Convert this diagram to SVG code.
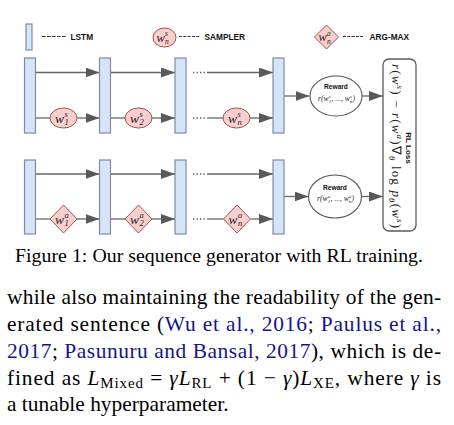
<svg xmlns="http://www.w3.org/2000/svg" width="454" height="425" viewBox="0 0 454 425">
<style>
.lstm{fill:#d6e4f8;stroke:#7d8ca5;stroke-width:1.2}
.samp{fill:#f8cfcd;stroke:#a0524e;stroke-width:1}
.rew{fill:#fff;stroke:#555;stroke-width:1.1}
.edge{fill:none;stroke:#666;stroke-width:1.3}
.dots{fill:none;stroke:#555;stroke-width:1.3;stroke-dasharray:1.3,2.2}
.leg{font-family:"Liberation Sans",Arial,sans-serif;font-size:8.3px;font-weight:bold;fill:#111}
.m{font-family:"Liberation Serif","Times New Roman",serif;font-style:italic;fill:#222}
.big{font-size:13.5px}
.sm{font-size:8.5px}
.rt{font-family:"Liberation Sans",Arial,sans-serif;font-size:6.6px;font-weight:bold;fill:#111}
.rf{font-size:7.5px}
.rs{font-size:5px}
.body{font-family:"Liberation Serif","Times New Roman",serif;fill:#000}
.cite{fill:#14148a}
</style>
<defs>
<marker id="ah" markerUnits="userSpaceOnUse" markerWidth="14" markerHeight="10" refX="14" refY="5" orient="auto">
<path d="M0,0 L14,5 L0,10 z" fill="#595959"/>
</marker>
</defs>

<g id="legend">
<rect class="lstm" x="26" y="24" width="6" height="26"/>
<line x1="42" y1="36.5" x2="67" y2="36.5" stroke="#333" stroke-width="1" stroke-dasharray="3.6,1.4"/>
<text class="leg" x="70.5" y="40">LSTM</text>
<ellipse class="samp" cx="164.5" cy="37.5" rx="11.5" ry="9.5"/>
<text class="m" style="font-size:12.5px" x="156.5" y="41.5">w</text>
<text class="m" style="font-size:7.5px" x="165" y="36">s</text>
<text class="m" style="font-size:7.5px" x="165" y="44">n</text>
<line x1="179" y1="36.5" x2="200" y2="36.5" stroke="#333" stroke-width="1" stroke-dasharray="3,1.3"/>
<text class="leg" x="204.5" y="40">SAMPLER</text>
<path class="samp" d="M326.5,25 L338.5,37 L326.5,49 L314.5,37 z"/>
<text class="m" style="font-size:12.5px" x="318.5" y="41">w</text>
<text class="m" style="font-size:7.5px" x="327" y="35.5">a</text>
<text class="m" style="font-size:7.5px" x="327" y="43.5">n</text>
<line x1="343" y1="36.5" x2="363" y2="36.5" stroke="#333" stroke-width="1" stroke-dasharray="3,1.3"/>
<text class="leg" x="369.5" y="40">ARG-MAX</text>
</g>

<g id="connectors">
<path class="edge" d="M35.5,72.5 H99.5" marker-end="url(#ah)"/>
<path class="edge" d="M110.5,72.5 H175" marker-end="url(#ah)"/>
<path class="dots" d="M193,72.5 H207"/>
<path class="edge" d="M207,72.5 H273" marker-end="url(#ah)"/>
<path class="edge" d="M35.5,118 H50"/>
<path class="edge" d="M77,118 H99.5" marker-end="url(#ah)"/>
<path class="edge" d="M110.5,118 H125"/>
<path class="edge" d="M152,118 H175" marker-end="url(#ah)"/>
<path class="dots" d="M193,118 H207"/>
<path class="edge" d="M207,118 H223"/>
<path class="edge" d="M250,118 H273" marker-end="url(#ah)"/>
<path class="edge" d="M35.5,174 H99.5" marker-end="url(#ah)"/>
<path class="edge" d="M110.5,174 H175" marker-end="url(#ah)"/>
<path class="dots" d="M193,174 H207"/>
<path class="edge" d="M207,174 H273" marker-end="url(#ah)"/>
<path class="edge" d="M35.5,219 H50"/>
<path class="edge" d="M77,219 H99.5" marker-end="url(#ah)"/>
<path class="edge" d="M110.5,219 H125"/>
<path class="edge" d="M152,219 H175" marker-end="url(#ah)"/>
<path class="dots" d="M193,219 H207"/>
<path class="edge" d="M207,219 H223.5"/>
<path class="edge" d="M250.5,219 H273" marker-end="url(#ah)"/>
<path class="edge" d="M284,96 H309.5" marker-end="url(#ah)"/>
<path class="edge" d="M362,96 H383" marker-end="url(#ah)"/>
<path class="edge" d="M284,196.5 H308.5" marker-end="url(#ah)"/>
<path class="edge" d="M361.5,196.5 H383" marker-end="url(#ah)"/>
</g>

<g id="lstm-top-1"><rect class="lstm" x="24.5" y="58" width="11" height="75"/></g>
<g id="lstm-top-2"><rect class="lstm" x="99.5" y="58" width="11" height="75"/></g>
<g id="lstm-top-3"><rect class="lstm" x="175" y="58" width="11" height="75"/></g>
<g id="lstm-top-4"><rect class="lstm" x="273" y="58" width="11" height="75"/></g>
<g id="lstm-bot-1"><rect class="lstm" x="24.5" y="160" width="11" height="74"/></g>
<g id="lstm-bot-2"><rect class="lstm" x="99.5" y="160" width="11" height="74"/></g>
<g id="lstm-bot-3"><rect class="lstm" x="175" y="160" width="11" height="74"/></g>
<g id="lstm-bot-4"><rect class="lstm" x="273" y="160" width="11" height="74"/></g>

<g id="ws1">
<ellipse class="samp" cx="63.5" cy="118" rx="13.5" ry="10"/>
<text class="m big" x="55" y="122.5">w</text>
<text class="m sm" x="64.5" y="116.5">s</text>
<text class="m sm" x="64.5" y="125">1</text>
</g>
<g id="ws2">
<ellipse class="samp" cx="138.5" cy="118" rx="13.5" ry="10"/>
<text class="m big" x="130" y="122.5">w</text>
<text class="m sm" x="139.5" y="116.5">s</text>
<text class="m sm" x="139.5" y="125">2</text>
</g>
<g id="wsn">
<ellipse class="samp" cx="236.5" cy="118" rx="13.5" ry="10"/>
<text class="m big" x="228" y="122.5">w</text>
<text class="m sm" x="237.5" y="116.5">s</text>
<text class="m sm" x="237.5" y="125">n</text>
</g>

<g id="wa1">
<path class="samp" d="M63.5,205 L77,219 L63.5,233 L50,219 z"/>
<text class="m big" x="55" y="223.5">w</text>
<text class="m sm" x="64.5" y="217.5">a</text>
<text class="m sm" x="64.5" y="226">1</text>
</g>
<g id="wa2">
<path class="samp" d="M138.5,205 L152,219 L138.5,233 L125,219 z"/>
<text class="m big" x="130" y="223.5">w</text>
<text class="m sm" x="139.5" y="217.5">a</text>
<text class="m sm" x="139.5" y="226">2</text>
</g>
<g id="wan">
<path class="samp" d="M237,205 L250.5,219 L237,233 L223.5,219 z"/>
<text class="m big" x="228.5" y="223.5">w</text>
<text class="m sm" x="238" y="217.5">a</text>
<text class="m sm" x="238" y="226">n</text>
</g>

<g id="reward-top">
<ellipse class="rew" cx="336" cy="96" rx="26" ry="20"/>
<text class="rt" x="336" y="89" text-anchor="middle">Reward</text>
<text class="m rf" x="318" y="100.5">r(w</text>
<text class="m rs" x="328.7" y="97.5">s</text>
<text class="m rs" x="328.7" y="102.5">1</text>
<text class="m rf" x="331.5" y="100.5">, ..., w</text>
<text class="m rs" x="349.7" y="97.5">s</text>
<text class="m rs" x="349.7" y="102.5">n</text>
<text class="m rf" x="352.5" y="100.5">)</text>
</g>
<g id="reward-bottom">
<ellipse class="rew" cx="335" cy="196.5" rx="26.5" ry="21.5"/>
<text class="rt" x="335" y="189.5" text-anchor="middle">Reward</text>
<text class="m rf" x="317" y="201">r(w</text>
<text class="m rs" x="327.7" y="198">a</text>
<text class="m rs" x="327.7" y="203">1</text>
<text class="m rf" x="330.5" y="201">, ..., w</text>
<text class="m rs" x="348.7" y="198">a</text>
<text class="m rs" x="348.7" y="203">n</text>
<text class="m rf" x="351.5" y="201">)</text>
</g>

<g id="rl-loss">
<rect x="383" y="59" width="33" height="172" rx="6" ry="6" fill="#fff" stroke="#5a5a5a" stroke-width="1.3"/>
<text class="rt" style="font-size:8px" transform="translate(405.5,148) rotate(90)" text-anchor="middle">RL Loss</text>
<text class="m" style="font-size:13px" transform="translate(392,64) rotate(90)" textLength="164" lengthAdjust="spacing">r<tspan font-style="normal">(</tspan>w<tspan font-size="9" dy="-5">s</tspan><tspan font-style="normal" dy="5">) − </tspan>r<tspan font-style="normal">(</tspan>w<tspan font-size="9" dy="-5">a</tspan><tspan font-style="normal" dy="5">)∇</tspan><tspan font-size="9" dy="3">θ</tspan><tspan font-style="normal" dy="-3"> log </tspan>p<tspan font-size="9" dy="3">θ</tspan><tspan font-style="normal" dy="-3">(</tspan>w<tspan font-size="9" dy="-5">s</tspan><tspan font-style="normal" dy="5">)</tspan></text>
</g>

<g id="caption">
<text class="body" x="15" y="261.5" font-size="19.8" textLength="408" lengthAdjust="spacing">Figure 1: Our sequence generator with RL training.</text>
</g>

<g id="paragraph" class="body" font-size="21.4">
<text x="7" y="304" textLength="434" lengthAdjust="spacing">while also maintaining the readability of the gen-</text>
<text x="7" y="331" textLength="434" lengthAdjust="spacing">erated sentence (<tspan class="cite">Wu et al., 2016</tspan>; <tspan class="cite">Paulus et al.,</tspan></text>
<text x="7" y="357.5" textLength="434" lengthAdjust="spacing"><tspan class="cite">2017</tspan>; <tspan class="cite">Pasunuru and Bansal, 2017</tspan>), which is de-</text>
<text x="7" y="384.5" textLength="434" lengthAdjust="spacing">fined as <tspan font-style="italic">L</tspan><tspan font-size="15" dy="3">Mixed</tspan><tspan dy="-3"> = </tspan><tspan font-style="italic">γL</tspan><tspan font-size="15" dy="3">RL</tspan><tspan dy="-3"> + (1 − </tspan><tspan font-style="italic">γ</tspan>)<tspan font-style="italic">L</tspan><tspan font-size="15" dy="3">XE</tspan><tspan dy="-3">, where </tspan><tspan font-style="italic">γ</tspan> is</text>
<text x="7" y="411">a tunable hyperparameter.</text>
</g>
</svg>
